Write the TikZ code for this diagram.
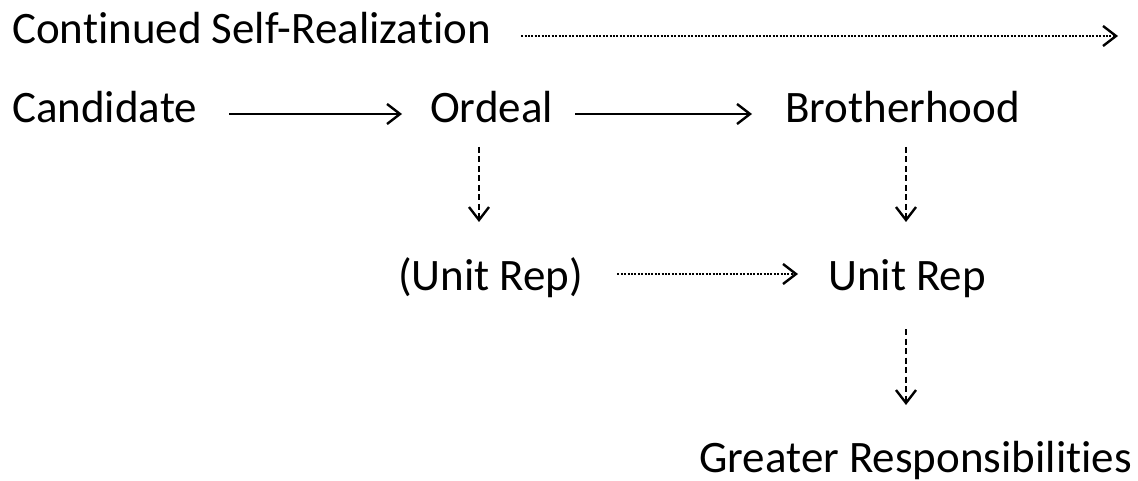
\documentclass[tikz,border=0pt]{standalone}
\usepackage{fontspec}
\setmainfont{Carlito}[Ligatures=NoCommon]
\usetikzlibrary{arrows.meta}

\tikzset{
  stage/.style={anchor=base west,inner sep=0pt,font=\fontsize{45}{54}\selectfont},
  link/.style={line width=2.2pt,-{Straight Barb[length=13pt,width=20pt,line width=2.4pt]}},
  maybe/.style={link,dash pattern=on 6pt off 3.5pt},
  faint/.style={link,dash pattern=on 2pt off 1.4pt}
}

\begin{document}
\begin{tikzpicture}[x=1pt,y=-1pt]
\useasboundingbox (0,0) rectangle (1138,481);
% stages
\node[stage] (self) at (12,44) {Continued Self-Realization};
\node[stage] (cand) at (12,123) {Candidate};
\node[stage] (ord) at (430,123) {Ordeal};
\node[stage] (bro) at (785,123) {Brotherhood};
\node[stage] (rep0) at (398,290) {(Unit Rep)};
\node[stage] (rep) at (828,290) {Unit Rep};
\node[stage,anchor=base east] (resp) at (1132,472) {Greater Responsibilities};
\coordinate (far) at (1118,36);
% arrows
\draw[faint] ([xshift=30pt,yshift=8pt]self.base east) -- (far);
\draw[link] ([xshift=32pt,yshift=9pt]cand.base east) -- ([xshift=-28pt,yshift=9pt]ord.base west);
\draw[link] ([xshift=22pt,yshift=9pt]ord.base east) -- ([xshift=-33pt,yshift=9pt]bro.base west);
\draw[maybe] ([xshift=49pt,yshift=-24pt]ord.base west) -- ([xshift=81pt,yshift=68pt]rep0.base west);
\draw[maybe] ([xshift=121pt,yshift=-24pt]bro.base west) -- ([xshift=78pt,yshift=68pt]rep.base west);
\draw[faint] ([xshift=34pt,yshift=16pt]rep0.base east) -- ([xshift=-30pt,yshift=16pt]rep.base west);
\draw[maybe] ([xshift=78pt,yshift=-39pt]rep.base west) -- ([xshift=-226pt,yshift=67pt]resp.base east);
\end{tikzpicture}
\end{document}
